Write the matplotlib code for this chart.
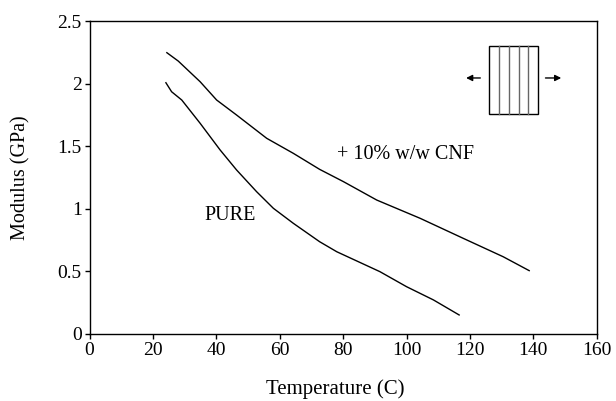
import matplotlib
matplotlib.use('Agg')
import matplotlib.pyplot as plt
from matplotlib.patches import Rectangle

plt.rcParams['font.family'] = ['Liberation Serif', 'DejaVu Serif']

# modulus vs temperature
temp_cnf = [24.4, 28.0, 34.9, 40.1, 46.4, 55.9, 64.3, 72.6, 80.1, 90.6, 104.3, 117.9, 130.5, 138.7]
mod_cnf = [2.247, 2.18, 2.015, 1.869, 1.749, 1.563, 1.443, 1.315, 1.217, 1.07, 0.924, 0.764, 0.617, 0.506]

temp_pure = [24.1, 25.9, 29.1, 34.9, 41.2, 46.4, 52.7, 58.0, 64.3, 72.6, 78.0, 91.6, 100.0, 108.5, 116.6]
mod_pure = [2.007, 1.935, 1.869, 1.683, 1.47, 1.31, 1.137, 1.004, 0.884, 0.737, 0.657, 0.498, 0.378, 0.272, 0.152]

x_ticks = [0, 20, 40, 60, 80, 100, 120, 140, 160]
y_ticks = [0, 0.5, 1, 1.5, 2, 2.5]
y_tick_labels = ['0', '0.5', '1', '1.5', '2', '2.5']

fig = plt.figure(figsize=(6.16, 4.01), dpi=100)
ax = fig.add_axes([0.1453, 0.1671, 0.8234, 0.7805])

ax.plot(temp_cnf, mod_cnf, color='black', lw=1.0)
ax.plot(temp_pure, mod_pure, color='black', lw=1.0)

ax.set_xlim(0, 160)
ax.set_ylim(0, 2.5)
ax.set_xticks(x_ticks)
ax.set_yticks(y_ticks)
ax.set_yticklabels(y_tick_labels)
ax.tick_params(direction='out', length=3.5, width=1.0, pad=2, labelsize=14, colors='black')
for s in ax.spines.values():
    s.set_linewidth(1.0)

ax.set_xlabel('Temperature (C)', fontsize=15)
ax.set_ylabel('Modulus (GPa)', fontsize=14.5)
ax.xaxis.set_label_coords(0.485, -0.145)
ax.yaxis.set_label_coords(-0.117, 0.5)

ax.text(78, 1.43, '+ 10% w/w CNF', fontsize=14.5, ha='left', va='center')
ax.text(36.1, 0.95, 'PURE', fontsize=14.5, ha='left', va='center')

# sample sketch with strain arrows
x0, x1, y0, y1 = 0.7877, 0.8849, 0.703, 0.920
ax.add_patch(Rectangle((x0, y0), x1 - x0, y1 - y0, transform=ax.transAxes,
                       fill=False, edgecolor='black', lw=1.0))
for i in range(1, 5):
    xx = x0 + (x1 - x0) * i / 5
    ax.plot([xx, xx], [y0, y1], transform=ax.transAxes, color='0.4', lw=1.0)
ay = 0.818
ax.annotate('', xy=(0.737, ay), xytext=(0.776, ay), xycoords='axes fraction',
            arrowprops=dict(arrowstyle='-|>', color='black', lw=1.0, mutation_scale=9))
ax.annotate('', xy=(0.9355, ay), xytext=(0.8935, ay), xycoords='axes fraction',
            arrowprops=dict(arrowstyle='-|>', color='black', lw=1.0, mutation_scale=9))

plt.savefig('out.png', dpi=100)
